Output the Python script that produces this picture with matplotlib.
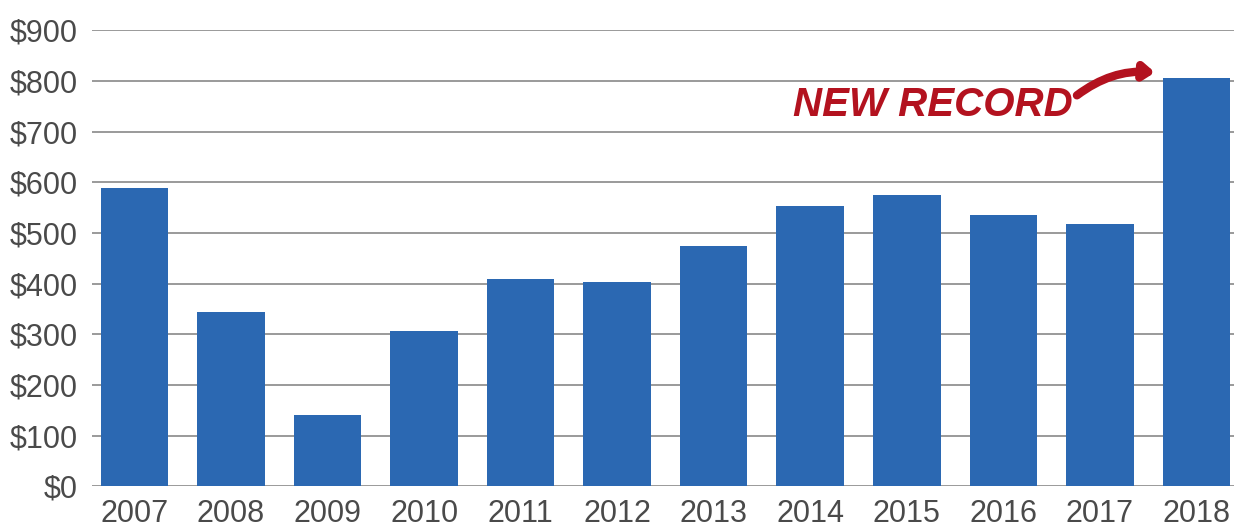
import matplotlib.pyplot as plt
import numpy as np

years = ["2007", "2008", "2009", "2010", "2011", "2012",
         "2013", "2014", "2015", "2016", "2017", "2018"]
values = [589, 344, 141, 306, 409, 404, 474, 554, 574, 535, 517, 806]
y_ticks = [0, 100, 200, 300, 400, 500, 600, 700, 800, 900]
y_labels = [f"${v}" for v in y_ticks]

bar_color = "#2b68b2"
grid_color = "#9a9a9a"
label_color = "#4a4a4a"
note_color = "#b3121f"

fig = plt.figure(figsize=(12.34, 5.27), dpi=100)
ax = fig.add_axes([0.0746, 0.0769, 0.9254, 0.866])

x = np.arange(len(years))
ax.bar(x, values, width=0.7, color=bar_color, zorder=3)

ax.set_xlim(-0.44, len(years) - 1 + 0.39)
ax.set_ylim(0, 900)
ax.set_yticks(y_ticks)
ax.set_yticklabels(y_labels)
ax.set_xticks(x)
ax.set_xticklabels(years)

# gray horizontal rules, no frame
ax.grid(axis="y", color=grid_color, linewidth=1.4, zorder=0)
for s in ax.spines.values():
    s.set_visible(False)
ax.tick_params(axis="both", length=0, colors=label_color, labelsize=22)
ax.tick_params(axis="x", pad=9)
ax.tick_params(axis="y", pad=10)
for lbl in ax.get_xticklabels() + ax.get_yticklabels():
    lbl.set_fontfamily("Liberation Sans")

# hand-drawn style callout
ax.text(9.72, 752, "NEW RECORD", color=note_color, fontsize=29,
        fontweight="bold", fontstyle="italic", family="Liberation Sans",
        ha="right", va="center", zorder=5)
ax.annotate("", xy=(10.6, 816), xytext=(9.74, 768),
            arrowprops=dict(arrowstyle="-|>,head_length=0.6,head_width=0.45",
                            color=note_color, lw=6,
                            connectionstyle="arc3,rad=-0.2"),
            annotation_clip=False, zorder=5)

fig.savefig("out.png", dpi=100)
